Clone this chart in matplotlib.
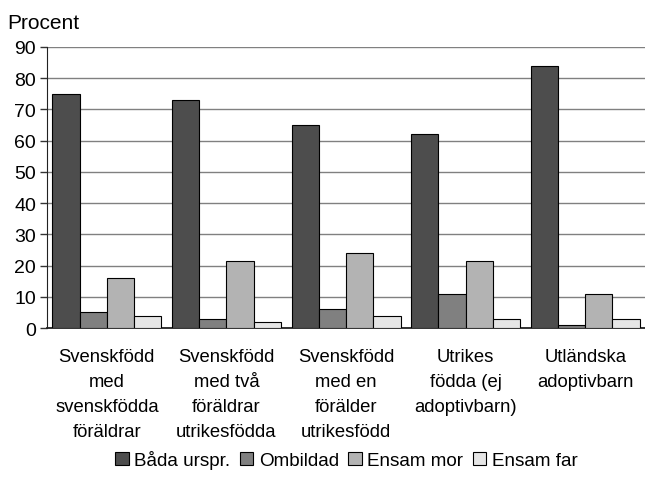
import matplotlib.pyplot as plt
import numpy as np

plt.rcParams['font.family'] = ['Liberation Sans', 'DejaVu Sans']

# Data
kategorier = ["Svenskfödd\nmed\nsvenskfödda\nföräldrar",
              "Svenskfödd\nmed två\nföräldrar\nutrikesfödda",
              "Svenskfödd\nmed en\nförälder\nutrikesfödd",
              "Utrikes\nfödda (ej\nadoptivbarn)",
              "Utländska\nadoptivbarn"]
serier = ["Båda urspr.", "Ombildad", "Ensam mor", "Ensam far"]
bada = [75, 73, 65, 62, 84]
ombildad = [5, 3, 6, 11, 1]
ensam_mor = [16, 21.5, 24, 21.5, 11]
ensam_far = [4, 2, 4, 3, 3]
farger = ["#4d4d4d", "#808080", "#b3b3b3", "#e6e6e6"]

fig = plt.figure(figsize=(6.45, 4.89), dpi=100)
ax = fig.add_axes([0.073, 0.327, 0.927, 0.575])

x = np.arange(len(kategorier))
w = 0.228
for i, (namn, varden) in enumerate(zip(serier, [bada, ombildad, ensam_mor, ensam_far])):
    ax.bar(x + (i - 1.5) * w, varden, w, color=farger[i], edgecolor="black",
           linewidth=0.8, label=namn, zorder=3)

ax.set_xlim(-0.5, 4.5)
ax.set_ylim(0, 90)
ax.set_yticks(range(0, 91, 10))
ax.yaxis.grid(True, color="#808080", linewidth=1.0, zorder=0)
ax.set_xticks(x)
ax.set_xticklabels(kategorier, fontsize=13.3, linespacing=1.62)
ax.tick_params(axis="x", length=0, pad=14)
ax.tick_params(axis="y", labelsize=14, length=5, width=1, color="#333333", pad=3)
for s in ["top", "right"]:
    ax.spines[s].set_visible(False)
ax.spines["left"].set_color("#222222")
ax.spines["bottom"].set_color("#222222")
ax.spines["bottom"].set_linewidth(1.3)

fig.text(0.012, 0.952, "Procent", fontsize=15, va="center")

fig.legend(loc="center", bbox_to_anchor=(0.537, 0.058), ncol=4, frameon=False,
           fontsize=13.6, handlelength=0.7, handleheight=0.7, handletextpad=0.3,
           columnspacing=0.5)

fig.savefig("out.png", dpi=100)
